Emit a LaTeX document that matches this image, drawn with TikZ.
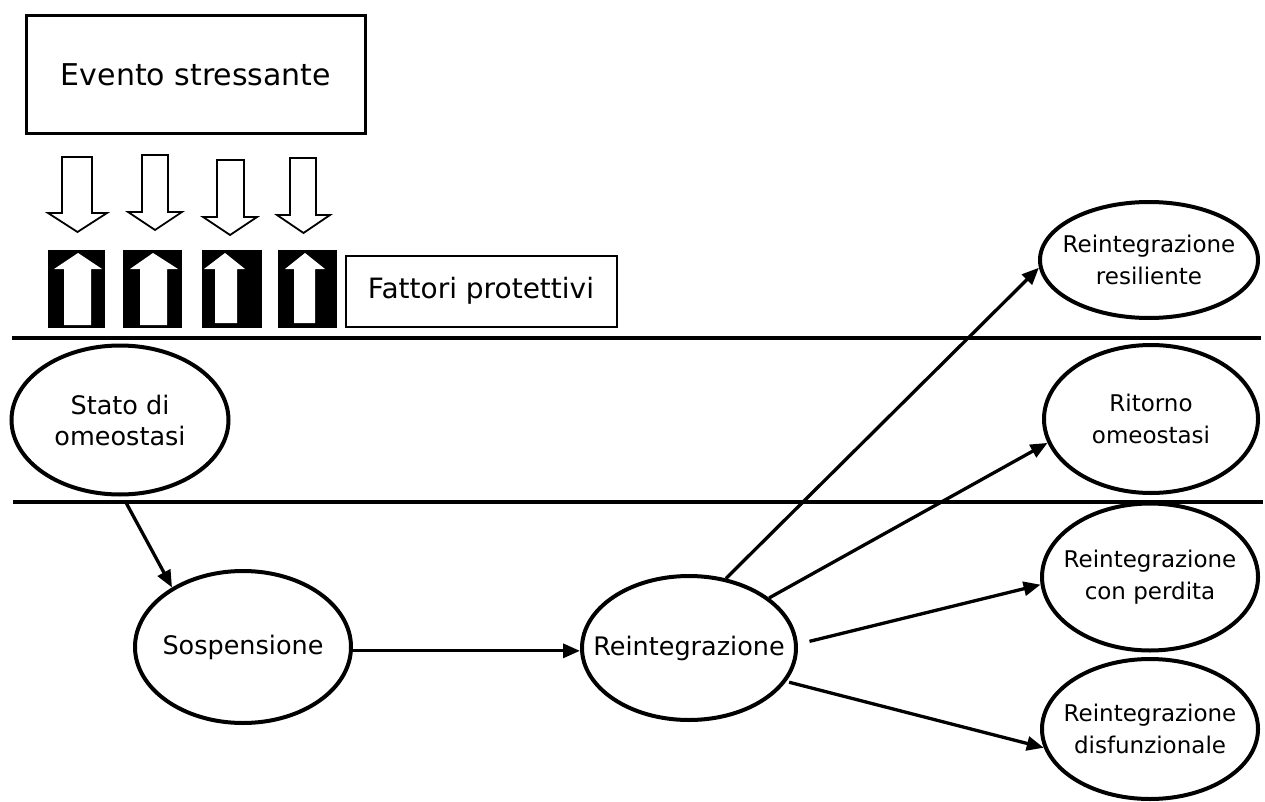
\documentclass[tikz,border=0pt]{standalone}
\usepackage{fontspec}
\setmainfont{DejaVu Sans}
\usetikzlibrary{arrows.meta,shapes.geometric}
\begin{document}
\begin{tikzpicture}[x=1pt,y=-1pt,
  state/.style={ellipse,draw,line width=4pt,inner sep=0pt},
  outtxt/.style={align=center,font=\fontsize{23}{32}\selectfont},
  midtxt/.style={align=center,font=\fontsize{25.5}{31}\selectfont},
  flow/.style={line width=3.3pt,-{Triangle[length=17pt,width=14pt]}},
  hollowarrow/.style={draw,line width=1.8pt,fill=white,line join=miter},
  divider/.style={line width=3.5pt},
]
\useasboundingbox (0,0) rectangle (1265,802);

% stressful event and the pressure arrows
\node[draw,line width=3pt,minimum width=339pt,minimum height=118pt,
      font=\fontsize{30}{34}\selectfont] (evento) at (196,75) {Evento stressante};

\foreach \sl/\sr/\top/\hb/\hl/\hr/\tip in
  {62/92/157/213/48/107/232, 142/168/155/212/128/182/230,
   217/244/160/217/203/257/235, 290/316/158/215/277/330/233}
  \draw[hollowarrow] (\sl,\top) -- (\sl,\hb) -- (\hl,\hb) -- ({(\hl+\hr)/2},\tip)
     -- (\hr,\hb) -- (\sr,\hb) -- (\sr,\top) -- cycle;

% protective factors: black blocks with white upward arrows
\foreach \bl/\br/\bb/\sl/\sr/\hl/\hr/\tx in
  {48/105/325/64/91/54/102/78, 123/182/325/140/167/130/178/153,
   202/262/323/215/237/204/245/225, 278/337/323/294/315/285/325/305}
{
  \fill[black] (\bl,250) rectangle (\br,328);
  \fill[white] (\sl,\bb) -- (\sl,269) -- (\hl,269) -- (\tx,253) -- (\hr,269)
     -- (\sr,269) -- (\sr,\bb) -- cycle;
}
\node[draw,line width=2pt,minimum width=271pt,minimum height=71pt,
      font=\fontsize{28}{30}\selectfont] (fattori) at (481,291) {Fattori protettivi};

% band dividers
\coordinate (d1l) at (12,338);  \coordinate (d1r) at (1261,338);
\coordinate (d2l) at (13,502);  \coordinate (d2r) at (1263,502);
\draw[divider] (d1l) -- (d1r);
\draw[divider] (d2l) -- (d2r);

% states
\node[state,minimum width=217pt,minimum height=149pt,
      label={[midtxt]center:Stato di\\omeostasi}] (stato) at (120,420) {};
\node[state,minimum width=216pt,minimum height=152pt,
      label={[midtxt]center:Sospensione}] (sosp) at (243,647) {};
\node[state,minimum width=214pt,minimum height=144pt,
      label={[midtxt]center:Reintegrazione}] (reint) at (689,648) {};
\node[state,minimum width=218pt,minimum height=116pt,
      label={[outtxt]center:Reintegrazione\\resiliente}] (r1) at (1149,260) {};
\node[state,minimum width=214pt,minimum height=148pt,
      label={[outtxt]center:Ritorno\\omeostasi}] (r2) at (1151,419) {};
\node[state,minimum width=216pt,minimum height=147pt,
      label={[outtxt]center:Reintegrazione\\con perdita}] (r3) at (1150,577) {};
\node[state,minimum width=216pt,minimum height=140pt,
      label={[outtxt]center:Reintegrazione\\disfunzionale}] (r4) at (1150,729) {};

% transitions
\draw[flow,shorten <=8pt] (stato.-88) -- (sosp.140);
\draw[flow] (sosp.-2) -- (sosp.-2 -| reint.west);
\draw[flow] (reint.62) -- (r1.184);
\draw[flow] (reint.32) -- (r2.193);
\draw[flow,shorten <=12pt] (reint.2) -- (r3.184);
\draw[flow,shorten <=3pt] (reint.-19) -- (r4.190);
\end{tikzpicture}
\end{document}
